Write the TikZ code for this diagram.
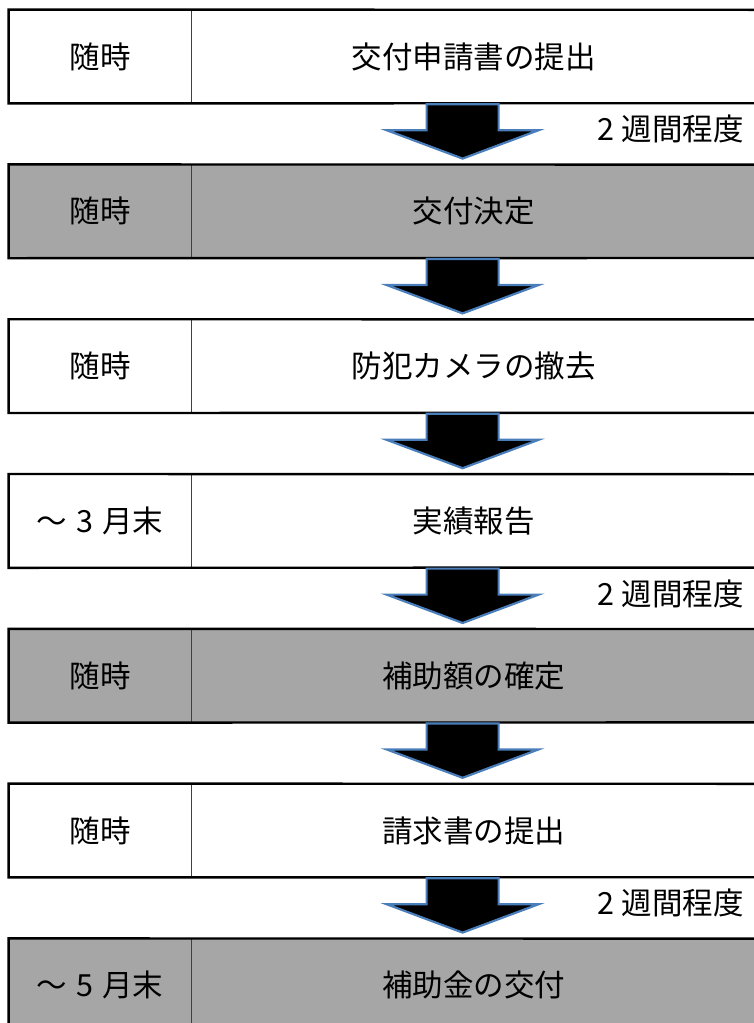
\documentclass[tikz,border=0pt]{standalone}
\usepackage{fontspec}
\newfontfamily\jpfont{Noto Sans CJK JP}
\usetikzlibrary{positioning,calc}

\definecolor{rowgray}{HTML}{A6A6A6}
\definecolor{arrowblue}{HTML}{4A7EBB}

% block arrow from one row to the next
\newcommand{\flowarrow}[2]{%
    \draw[downarrow] ($(#1.south)+(-47,1)$) -- ($(#1.south)+(-47,27)$)
        -- ($(#1.south)+(-87,27)$) -- ($(#2.north)+(-11,-6)$)
        -- ($(#1.south)+(65,27)$) -- ($(#1.south)+(25,27)$)
        -- ($(#1.south)+(25,1)$) -- cycle;}

\begin{document}
\begin{tikzpicture}[x=1pt, y=-1pt,
    % Define styles
    whenbox/.style={
        rectangle,
        draw=black!75,
        line width=0.8pt,
        minimum width=182pt,
        minimum height=93pt,
        inner sep=0pt,
        font=\jpfont\fontsize{30.5}{33}\selectfont
    },
    taskbox/.style={
        rectangle,
        minimum width=564pt,
        minimum height=93pt,
        inner sep=0pt,
        font=\jpfont\fontsize{30.5}{33}\selectfont
    },
    grayrow/.style={fill=rowgray},
    frameline/.style={draw=black, line width=2.4pt},
    downarrow/.style={draw=arrowblue, fill=black, line width=2.2pt, line join=miter},
    periodlabel/.style={anchor=east, inner sep=0pt, font=\jpfont\fontsize{30.5}{33}\selectfont}
]
\useasboundingbox (0,0) rectangle (754,1023);

% Rows
\node[whenbox] (when1) at (100,56.5) {随時};
\node[taskbox, right=0pt of when1] (task1) {交付申請書の提出};

\node[whenbox, grayrow, below=61pt of when1] (when2) {随時};
\node[taskbox, grayrow, right=0pt of when2] (task2) {交付決定};

\node[whenbox, below=61pt of when2] (when3) {随時};
\node[taskbox, right=0pt of when3] (task3) {防犯カメラの撤去};

\node[whenbox, below=61pt of when3] (when4) {～\hspace{0.3em}3\hspace{0.3em}月末};
\node[taskbox, right=0pt of when4] (task4) {実績報告};

\node[whenbox, grayrow, below=61pt of when4] (when5) {随時};
\node[taskbox, grayrow, right=0pt of when5] (task5) {補助額の確定};

\node[whenbox, below=61pt of when5] (when6) {随時};
\node[taskbox, right=0pt of when6] (task6) {請求書の提出};

\node[whenbox, grayrow, below=61pt of when6] (when7) {～\hspace{0.3em}5\hspace{0.3em}月末};
\node[taskbox, grayrow, right=0pt of when7] (task7) {補助金の交付};

% Row frames
\draw[frameline] (task1.north east) -- (when1.north west) -- (when1.south west) -- (task1.south east);
\draw[frameline] (task2.north east) -- (when2.north west) -- (when2.south west) -- (task2.south east);
\draw[frameline] (task3.north east) -- (when3.north west) -- (when3.south west) -- (task3.south east);
\draw[frameline] (task4.north east) -- (when4.north west) -- (when4.south west) -- (task4.south east);
\draw[frameline] (task5.north east) -- (when5.north west) -- (when5.south west) -- (task5.south east);
\draw[frameline] (task6.north east) -- (when6.north west) -- (when6.south west) -- (task6.south east);
\draw[frameline] (task7.north east) -- (when7.north west) -- (when7.south west) -- (task7.south east);

% Arrows
\flowarrow{task1}{task2}
\flowarrow{task2}{task3}
\flowarrow{task3}{task4}
\flowarrow{task4}{task5}
\flowarrow{task5}{task6}
\flowarrow{task6}{task7}

% Durations
\node[periodlabel] (period1) at ($(task1.south east)+(-12,26)$) {2 週間程度};
\node[periodlabel] (period4) at ($(task4.south east)+(-12,26)$) {2 週間程度};
\node[periodlabel] (period6) at ($(task6.south east)+(-12,26)$) {2 週間程度};

\end{tikzpicture}
\end{document}
